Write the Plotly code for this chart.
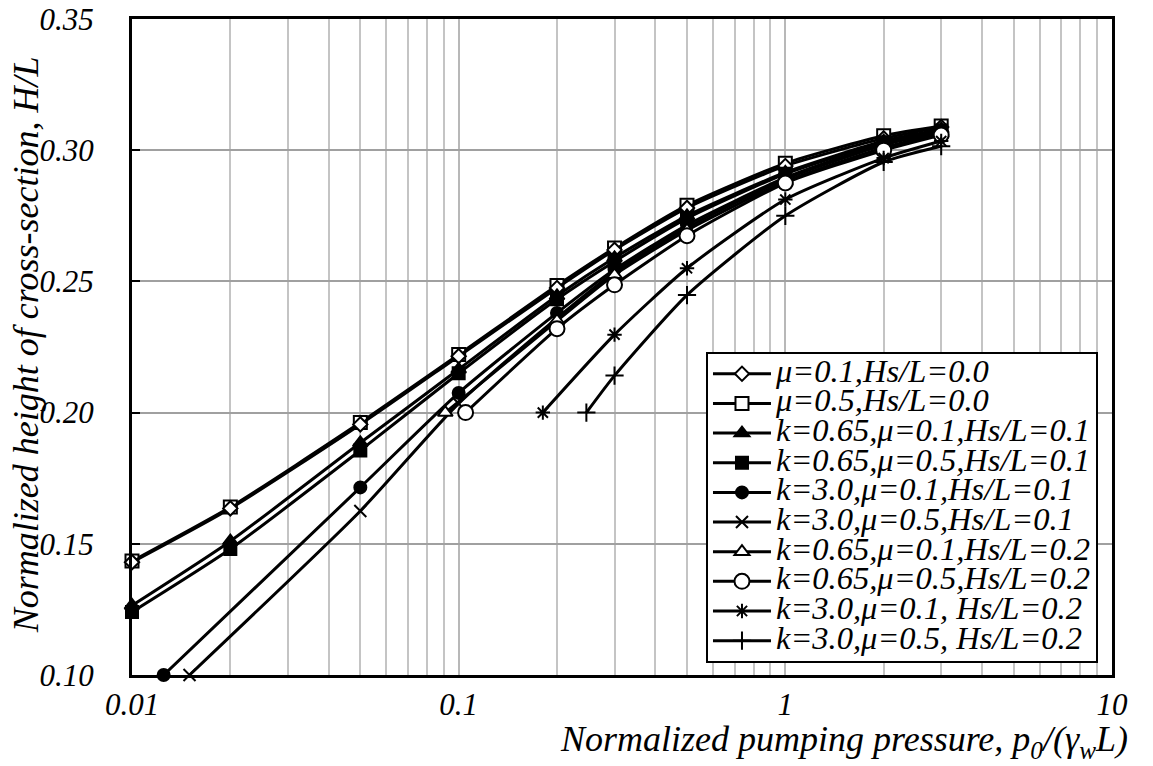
import plotly.graph_objects as go

# ---------------- data ----------------
x_full = [0.01, 0.02, 0.05, 0.1, 0.2, 0.3, 0.5, 1, 2, 3]

y_mu01_hs00 = [0.1430, 0.1635, 0.1955, 0.2215, 0.2475, 0.2620, 0.2780, 0.2940, 0.3045, 0.3088]
y_mu05_hs00 = [0.1434, 0.1640, 0.1962, 0.2221, 0.2484, 0.2627, 0.2790, 0.2950, 0.3055, 0.3092]

y_k065_mu01_hs01 = [0.1265, 0.1510, 0.1885, 0.2165, 0.2445, 0.2590, 0.2750, 0.2915, 0.3035, 0.3080]
y_k065_mu05_hs01 = [0.1240, 0.1480, 0.1856, 0.2150, 0.2432, 0.2576, 0.2740, 0.2910, 0.3030, 0.3075]

x_k30_mu01_hs01 = [0.0125, 0.05, 0.1, 0.2, 0.3, 0.5, 1, 2, 3]
y_k30_mu01_hs01 = [0.1000, 0.1715, 0.2075, 0.2380, 0.2545, 0.2715, 0.2895, 0.3025, 0.3072]

x_k30_mu05_hs01 = [0.015, 0.05, 0.1, 0.2, 0.3, 0.5, 1, 2, 3]
y_k30_mu05_hs01 = [0.1000, 0.1625, 0.2035, 0.2360, 0.2535, 0.2705, 0.2890, 0.3020, 0.3068]

x_k065_mu01_hs02 = [0.091, 0.2, 0.3, 0.5, 1, 2, 3]
y_k065_mu01_hs02 = [0.2000, 0.2350, 0.2525, 0.2695, 0.2880, 0.3010, 0.3062]

x_k065_mu05_hs02 = [0.105, 0.2, 0.3, 0.5, 1, 2, 3]
y_k065_mu05_hs02 = [0.2000, 0.2320, 0.2487, 0.2674, 0.2875, 0.3000, 0.3058]

x_k30_mu01_hs02 = [0.181, 0.3, 0.5, 1, 2, 3]
y_k30_mu01_hs02 = [0.2000, 0.2297, 0.2550, 0.2812, 0.2970, 0.3035]

x_k30_mu05_hs02 = [0.246, 0.3, 0.5, 1, 2, 3]
y_k30_mu05_hs02 = [0.2000, 0.2141, 0.2448, 0.2750, 0.2955, 0.3015]

names = [
    "μ=0.1,Hs/L=0.0",
    "μ=0.5,Hs/L=0.0",
    "k=0.65,μ=0.1,Hs/L=0.1",
    "k=0.65,μ=0.5,Hs/L=0.1",
    "k=3.0,μ=0.1,Hs/L=0.1",
    "k=3.0,μ=0.5,Hs/L=0.1",
    "k=0.65,μ=0.1,Hs/L=0.2",
    "k=0.65,μ=0.5,Hs/L=0.2",
    "k=3.0,μ=0.1, Hs/L=0.2",
    "k=3.0,μ=0.5, Hs/L=0.2",
]

x_ticks = [0.01, 0.1, 1, 10]
x_tick_text = ["0.01", "0.1", "1", "10"]
y_ticks = [0.10, 0.15, 0.20, 0.25, 0.30, 0.35]

# ---------------- styling ----------------
FONT = "Liberation Serif, Times New Roman, serif"
BLACK = "black"
WHITE = "white"

series = [
    # (x, y, name, symbol, size, fill, rank)
    (x_full, y_mu05_hs00, names[1], "square", 13, WHITE, 2),
    (x_full, y_mu01_hs00, names[0], "diamond", 11, WHITE, 1),
    (x_full, y_k065_mu01_hs01, names[2], "triangle-up", 13, BLACK, 3),
    (x_full, y_k065_mu05_hs01, names[3], "square", 12, BLACK, 4),
    (x_k30_mu01_hs01, y_k30_mu01_hs01, names[4], "circle", 12, BLACK, 5),
    (x_k30_mu05_hs01, y_k30_mu05_hs01, names[5], "x-thin", 12, BLACK, 6),
    (x_k065_mu01_hs02, y_k065_mu01_hs02, names[6], "triangle-up", 13, WHITE, 7),
    (x_k065_mu05_hs02, y_k065_mu05_hs02, names[7], "circle", 15, WHITE, 8),
    (x_k30_mu01_hs02, y_k30_mu01_hs02, names[8], "asterisk-open", 12, BLACK, 9),
    (x_k30_mu05_hs02, y_k30_mu05_hs02, names[9], "cross-thin", 13, BLACK, 10),
]

fig = go.Figure()
for xs, ys, nm, sym, sz, fill, rank in series:
    fig.add_trace(go.Scatter(
        x=xs, y=ys, mode="lines+markers",
        name='<span style="font-size:32.5px">' + nm + "</span>",
        line=dict(color=BLACK, width=3, shape="spline", smoothing=0.6),
        marker=dict(symbol=sym, size=sz, color=fill,
                    line=dict(color=BLACK, width=2)),
        legendrank=rank, cliponaxis=False,
    ))

fig.update_layout(
    width=1153, height=766,
    margin=dict(l=132, r=41, t=19, b=91, autoexpand=False),
    paper_bgcolor="white", plot_bgcolor="white",
    font=dict(family=FONT, size=30, color=BLACK, style="italic"),
    showlegend=True,
    legend=dict(
        x=0.5857, y=0.4924, xanchor="left", yanchor="top",
        bgcolor="white", bordercolor=BLACK, borderwidth=2,
        font=dict(family=FONT, size=20.5, color=BLACK, style="italic"),
        tracegroupgap=0, itemwidth=58,
    ),
)

fig.update_xaxes(
    type="log", range=[-2, 1], automargin=False,
    tickvals=x_ticks, ticktext=x_tick_text, ticklabeloverflow="allow",
    showgrid=True, gridcolor="#b8b8b8", gridwidth=2,
    minor=dict(showgrid=True, gridcolor="#c4c4c4", gridwidth=2, dtick="D1"),
    showline=True, linecolor=BLACK, linewidth=2.5, mirror=True,
    ticks="", ticklabelstandoff=0,
    tickfont=dict(family=FONT, size=31, style="italic"),
    zeroline=False,
)
fig.update_yaxes(
    range=[0.10, 0.35], tickvals=y_ticks, tickformat=".2f", automargin=False,
    ticklabeloverflow="allow",
    showgrid=True, gridcolor="#a0a0a0", gridwidth=2,
    showline=True, linecolor=BLACK, linewidth=3, mirror=True,
    ticks="inside", ticklen=8, tickwidth=2, tickcolor=BLACK,
    ticklabelstandoff=29,
    tickfont=dict(family=FONT, size=31, style="italic"),
    zeroline=False,
)

fig.add_annotation(
    text="Normalized pumping pressure, p<sub>0</sub>/(γ<sub>w</sub>L)",
    xref="paper", yref="paper", x=1.0184, y=-0.102,
    xanchor="right", yanchor="middle", showarrow=False,
    font=dict(family=FONT, size=36, style="italic"),
)
fig.add_annotation(
    text="Normalized height of cross-section, H/L",
    xref="paper", yref="paper", x=-0.108, y=0.503,
    xanchor="center", yanchor="middle", textangle=-90, showarrow=False,
    font=dict(family=FONT, size=36, style="italic"),
)

# remove the default 8px page margin so the figure sits at the window corner
fig.write_html(
    "out.html",
    config={"displayModeBar": False},
    post_script="document.body.style.margin='0px';",
)
